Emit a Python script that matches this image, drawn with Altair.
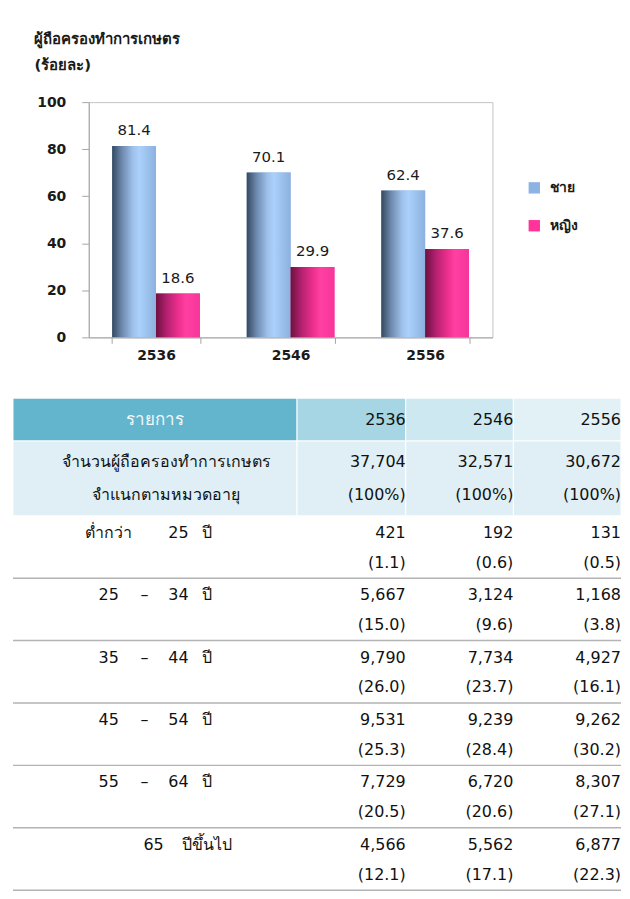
import altair as alt
import pandas as pd

# ---------------- data ----------------
years = ["2536", "2546", "2556"]
sexes = ["ชาย", "หญิง"]
male_pct = [81.4, 70.1, 62.4]
female_pct = [18.6, 29.9, 37.6]

chart_title = ["ผู้ถือครองทำการเกษตร", "(ร้อยละ)"]
y_ticks = [0, 20, 40, 60, 80, 100]

header_item = "รายการ"
band_labels = ["จำนวนผู้ถือครองทำการเกษตร", "จำแนกตามหมวดอายุ"]
total_holders = [37704, 32571, 30672]
total_share = ["(100%)", "(100%)", "(100%)"]

# age label pieces: (low, dash, mid, high, unit)
age_labels = [
    ("ต่ำกว่า", "", "", "25", "ปี"),
    ("25", "–", "", "34", "ปี"),
    ("35", "–", "", "44", "ปี"),
    ("45", "–", "", "54", "ปี"),
    ("55", "–", "", "64", "ปี"),
    ("", "", "65", "", "ปีขึ้นไป"),
]
counts_2536 = [421, 5667, 9790, 9531, 7729, 4566]
counts_2546 = [192, 3124, 7734, 9239, 6720, 5562]
counts_2556 = [131, 1168, 4927, 9262, 8307, 6877]
pct_2536 = [1.1, 15.0, 26.0, 25.3, 20.5, 12.1]
pct_2546 = [0.6, 9.6, 23.7, 28.4, 20.6, 17.1]
pct_2556 = [0.5, 3.8, 16.1, 30.2, 27.1, 22.3]

# ---------------- style / layout ----------------
FONT = "DejaVu Sans"
INK = "#1a1a1a"
AXIS_GRAY = "#a6a6a6"
BLUE = "#8db3e2"
PINK = "#ff3399"

blue_grad = alt.Gradient(
    gradient="linear", x1=0, x2=1, y1=0, y2=0,
    stops=[alt.GradientStop(color="#34495f", offset=0),
           alt.GradientStop(color="#6d88ad", offset=0.22),
           alt.GradientStop(color="#9fc2ec", offset=0.48),
           alt.GradientStop(color="#aad0fb", offset=0.62),
           alt.GradientStop(color="#8cb1de", offset=1)])
pink_grad = alt.Gradient(
    gradient="linear", x1=0, x2=1, y1=0, y2=0,
    stops=[alt.GradientStop(color="#6e1040", offset=0),
           alt.GradientStop(color="#b4216f", offset=0.25),
           alt.GradientStop(color="#ef2f8e", offset=0.52),
           alt.GradientStop(color="#ff40a2", offset=0.68),
           alt.GradientStop(color="#f7359b", offset=1)])

BAR_W, BAR_H = 405, 236

TABLE_W = 610
TABLE_INDENT = 76          # table starts this far left of the bar plot
COL_EDGES = [0, 285, 394, 502, 610]
HEADER_FILLS = ["#62b5cc", "#a6d5e3", "#cde8f0", "#e2f1f6"]
BAND_FILL = "#e0eff5"
HEADER_H = 43
BAND_H = 75
BAND_LINES = [21, 54]
GROUP_H = 62.6
LINE_OFFS = [17, 47]
TABLE_H = 494
ITEM_CENTER = 154
SLOT_X = {"lo": 96, "dash": 132, "mid": 141, "hi": 166, "unit": 195}
SLOTS = ["lo", "dash", "mid", "hi", "unit"]

# ---------------- bar chart ----------------
bar_df = pd.DataFrame({
    "year": years * 2,
    "sex": [sexes[0]] * len(years) + [sexes[1]] * len(years),
    "pct": male_pct + female_pct,
})

x_enc = alt.X("year:N", sort=years,
              scale=alt.Scale(paddingInner=0.348, paddingOuter=0.174),
              axis=alt.Axis(title=None, labelAngle=0, tickBand="extent",
                            labelFont=FONT, labelFontSize=14, labelFontWeight="bold",
                            labelColor=INK, domainColor=AXIS_GRAY, tickColor=AXIS_GRAY,
                            tickSize=6, labelPadding=5, grid=False))
xo_enc = alt.XOffset("sex:N", sort=sexes,
                     scale=alt.Scale(domain=sexes, paddingInner=0, paddingOuter=0))
y_enc = alt.Y("pct:Q", scale=alt.Scale(domain=[0, 100], nice=False),
              axis=alt.Axis(values=y_ticks, title=chart_title, titleAngle=0,
                            titleAlign="left", titleBaseline="top", titleX=-55, titleY=-71,
                            titleFont=FONT, titleFontSize=15, titleFontWeight="bold",
                            titleColor=INK, titleLineHeight=26,
                            labelFont=FONT, labelFontSize=14, labelFontWeight="bold",
                            labelColor=INK, tickSize=7, labelPadding=16, grid=False,
                            domainColor=AXIS_GRAY, tickColor=AXIS_GRAY))

legend_bars = alt.Chart(bar_df).mark_bar().encode(
    x=x_enc, xOffset=xo_enc, y=y_enc,
    color=alt.Color("sex:N", sort=sexes,
                    scale=alt.Scale(domain=sexes, range=[BLUE, PINK]),
                    legend=alt.Legend(title=None, orient="none", legendX=440, legendY=79,
                                      symbolType="square", symbolSize=130,
                                      symbolStrokeWidth=0,
                                      labelFont=FONT, labelFontSize=14,
                                      labelFontWeight="bold", labelColor=INK,
                                      rowPadding=24, labelOffset=9)))
male_bars = alt.Chart(bar_df).transform_filter(
    alt.datum.sex == sexes[0]).mark_bar(fill=blue_grad).encode(
    x=x_enc, xOffset=xo_enc, y=y_enc)
female_bars = alt.Chart(bar_df).transform_filter(
    alt.datum.sex == sexes[1]).mark_bar(fill=pink_grad).encode(
    x=x_enc, xOffset=xo_enc, y=y_enc)
bar_labels = alt.Chart(bar_df).mark_text(
    baseline="bottom", dy=-8, font=FONT, fontSize=15, color=INK).encode(
    x=x_enc, xOffset=xo_enc, y=y_enc, text=alt.Text("pct:Q", format=".1f"))

bar_chart = alt.layer(legend_bars, male_bars, female_bars, bar_labels).properties(
    width=BAR_W, height=BAR_H, view=alt.ViewBackground(stroke="#c4c4c4"))

# ---------------- table ----------------
rect_rows = []
for i in range(4):
    rect_rows.append({"x0": COL_EDGES[i], "x1": COL_EDGES[i + 1], "y0": 0,
                      "y1": HEADER_H, "fill": HEADER_FILLS[i]})
    rect_rows.append({"x0": COL_EDGES[i], "x1": COL_EDGES[i + 1], "y0": HEADER_H,
                      "y1": HEADER_H + BAND_H, "fill": BAND_FILL})
rect_df = pd.DataFrame(rect_rows)

top0 = HEADER_H + BAND_H
sep_df = pd.DataFrame({"x0": [0] * len(age_labels), "x1": [TABLE_W] * len(age_labels),
                       "y": [top0 + GROUP_H * (g + 1) for g in range(len(age_labels))]})

value_rows = []
col_counts = [counts_2536, counts_2546, counts_2556]
col_pcts = [pct_2536, pct_2546, pct_2556]
for c, yr in enumerate(years):
    xr = COL_EDGES[c + 2]
    value_rows.append({"x": xr, "y": HEADER_H / 2, "t": yr})
    value_rows.append({"x": xr, "y": HEADER_H + BAND_LINES[0], "t": f"{total_holders[c]:,}"})
    value_rows.append({"x": xr, "y": HEADER_H + BAND_LINES[1], "t": total_share[c]})
    for g in range(len(age_labels)):
        gt = top0 + GROUP_H * g
        value_rows.append({"x": xr, "y": gt + LINE_OFFS[0], "t": f"{col_counts[c][g]:,}"})
        value_rows.append({"x": xr, "y": gt + LINE_OFFS[1], "t": f"({col_pcts[c][g]:.1f})"})
value_df = pd.DataFrame(value_rows)

label_rows = []
for k, lab in enumerate(band_labels):
    label_rows.append({"x": ITEM_CENTER, "y": HEADER_H + BAND_LINES[k], "t": lab})
for g, parts in enumerate(age_labels):
    gt = top0 + GROUP_H * g
    for s, piece in zip(SLOTS, parts):
        if piece:
            label_rows.append({"x": SLOT_X[s], "y": gt + LINE_OFFS[0], "t": piece})
label_df = pd.DataFrame(label_rows)

head_df = pd.DataFrame({"x": [(COL_EDGES[0] + COL_EDGES[1]) / 2], "y": [HEADER_H / 2],
                        "t": [header_item]})

TABLE_VIEW_W = TABLE_W - TABLE_INDENT
xs = alt.Scale(domain=[0, TABLE_W], range=[-TABLE_INDENT, TABLE_VIEW_W], nice=False, zero=False)
ys = alt.Scale(domain=[0, TABLE_H], nice=False, zero=False, reverse=True)

t_rects = alt.Chart(rect_df).mark_rect(stroke="white", strokeWidth=1).encode(
    x=alt.X("x0:Q", scale=xs, axis=None), x2="x1:Q",
    y=alt.Y("y0:Q", scale=ys, axis=None), y2="y1:Q",
    fill=alt.Fill("fill:N", scale=None))
t_seps = alt.Chart(sep_df).mark_rule(color="#b3b3b3", strokeWidth=1.5).encode(
    x=alt.X("x0:Q", scale=xs, axis=None), x2="x1:Q",
    y=alt.Y("y:Q", scale=ys, axis=None))
t_values = alt.Chart(value_df).mark_text(
    align="right", baseline="middle", dx=0, font=FONT, fontSize=16, color="#111111").encode(
    x=alt.X("x:Q", scale=xs, axis=None), y=alt.Y("y:Q", scale=ys, axis=None), text="t:N")
t_labels = alt.Chart(label_df).mark_text(
    align="center", baseline="middle", font=FONT, fontSize=16, color="#111111").encode(
    x=alt.X("x:Q", scale=xs, axis=None), y=alt.Y("y:Q", scale=ys, axis=None), text="t:N")
t_head = alt.Chart(head_df).mark_text(
    align="center", baseline="middle", font=FONT, fontSize=17, color="#f4fafc").encode(
    x=alt.X("x:Q", scale=xs, axis=None), y=alt.Y("y:Q", scale=ys, axis=None), text="t:N")

table_chart = alt.layer(t_rects, t_seps, t_values, t_labels, t_head).properties(
    width=TABLE_VIEW_W, height=TABLE_H,
    view=alt.ViewBackground(stroke="transparent", strokeWidth=0))

chart = alt.vconcat(bar_chart, table_chart, spacing=61, bounds="flush").properties(
    padding={"left": 4, "top": 21, "right": 0, "bottom": 0}
).configure_view(stroke="transparent").configure(font=FONT)

chart.save("out.html", embed_options={"renderer": "svg", "actions": False})
